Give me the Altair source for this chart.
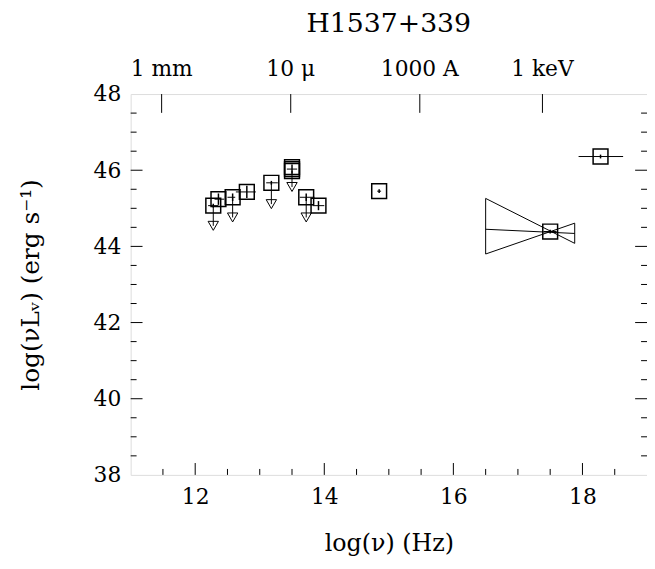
import altair as alt
import pandas as pd

FONT = "DejaVu Serif"

# ---- data ----
# boxed measurements (log nu, log nuLnu)
sq_x = [12.28, 12.36, 12.58, 12.80, 13.18, 13.50, 13.50, 13.50, 13.72, 13.91, 14.85, 17.50, 18.28]
sq_y = [45.07, 45.24, 45.29, 45.43, 45.67, 45.98, 46.03, 46.08, 45.29, 45.07, 45.45, 44.39, 46.36]

# small error bars inside the boxes
err_x = [12.28, 12.36, 12.58, 12.80, 13.18, 13.50, 13.72, 13.91, 14.85, 17.50, 18.28]
err_y = [45.07, 45.24, 45.29, 45.43, 45.67, 46.03, 45.29, 45.07, 45.45, 44.39, 46.36]
err_xlo = [12.20, 12.30, 12.50, 12.63, 13.10, 13.42, 13.62, 13.82, 14.82, 17.40, 17.94]
err_xhi = [12.36, 12.45, 12.62, 12.94, 13.28, 13.58, 13.85, 14.00, 14.88, 17.60, 18.63]
err_ylo = [45.02, 45.09, 45.19, 45.27, 45.62, 45.91, 45.19, 44.95, 45.40, 44.34, 46.31]
err_yhi = [45.12, 45.39, 45.39, 45.59, 45.72, 46.15, 45.39, 45.19, 45.50, 44.44, 46.41]

# upper limits (arrows)
lim_x = [12.28, 12.58, 13.18, 13.50, 13.72]
lim_y = [45.07, 45.29, 45.67, 45.98, 45.29]
lim_end = [44.54, 44.76, 45.11, 45.56, 44.76]

# X-ray bow tie
bow_x = [16.50, 17.88, 17.88, 16.50, 16.50]
bow_y = [45.26, 44.08, 44.61, 43.80, 45.26]
bow_mid_x = [16.50, 17.88]
bow_mid_y = [44.45, 44.34]

# axes
x_labels = [12, 14, 16, 18]
y_labels = [38, 40, 42, 44, 46, 48]
x_ticks = [11.5, 12, 12.5, 13, 13.5, 14, 14.5, 15, 15.5, 16, 16.5, 17, 17.5, 18, 18.5]
y_ticks = [38.5, 39, 39.5, 40, 40.5, 41, 41.5, 42, 42.5, 43, 43.5, 44, 44.5, 45, 45.5,
           46, 46.5, 47, 47.5]
top_pos = [11.48, 13.48, 15.48, 17.38]
top_text = ["1 mm", "10 \u03bc", "1000 A", "1 keV"]

X_MIN, X_MAX = 11, 19
Y_MIN, Y_MAX = 38, 48

W, H = 522, 385
xs = alt.Scale(domain=[X_MIN, X_MAX], nice=False, zero=False)
ys = alt.Scale(domain=[Y_MIN, Y_MAX], nice=False, zero=False)

# tick lengths expressed in data units
px_x = (X_MAX - X_MIN) / W
px_y = (Y_MAX - Y_MIN) / H
MAJ, MIN_, TOP = 12, 6, 19

rows = []
for v in x_ticks:
    L = (MAJ if v % 2 == 0 else MIN_) * px_y
    rows.append(dict(x=v, x2=v, y=Y_MIN, y2=Y_MIN + L))
for v in y_ticks:
    L = (MAJ if v % 2 == 0 else MIN_) * px_x
    rows.append(dict(x=X_MIN, x2=X_MIN + L, y=v, y2=v))
    rows.append(dict(x=X_MAX, x2=X_MAX - L, y=v, y2=v))
for v in top_pos:
    rows.append(dict(x=v, x2=v, y=Y_MAX, y2=Y_MAX - TOP * px_y))
ticks_df = pd.DataFrame(rows)

sq_df = pd.DataFrame({"x": sq_x, "y": sq_y})
err_df = pd.DataFrame({"x": err_x, "y": err_y, "xlo": err_xlo, "xhi": err_xhi,
                       "ylo": err_ylo, "yhi": err_yhi})
lim_df = pd.DataFrame({"x": lim_x, "y": lim_y, "end": lim_end})
bow_df = pd.DataFrame(
    {"x": bow_x + bow_mid_x, "y": bow_y + bow_mid_y,
     "line": ["outline"] * len(bow_x) + ["mid"] * len(bow_mid_x),
     "order": list(range(len(bow_x))) + list(range(len(bow_mid_x)))})
top_df = pd.DataFrame({"x": top_pos, "label": top_text, "y": [Y_MAX] * len(top_pos)})

x_axis = alt.Axis(values=x_labels, format="d", ticks=False, domain=False, grid=False,
                  labelFont=FONT, labelFontSize=22, labelPadding=12, labelColor="black",
                  title="log(\u03bd)  (Hz)", titleFont=FONT, titleFontSize=24,
                  titleFontWeight="normal", titleColor="black", titlePadding=24)
y_axis = alt.Axis(values=y_labels, format="d", ticks=False, domain=False, grid=False,
                  labelFont=FONT, labelFontSize=22, labelPadding=10, labelColor="black",
                  title="log(\u03bdL\u1d65)  (erg s\u207b\u00b9)", titleFont=FONT,
                  titleFontSize=25, titleFontWeight="normal", titleColor="black",
                  titlePadding=50)


def X(f):
    return alt.X(f, scale=xs, axis=x_axis)


def Y(f):
    return alt.Y(f, scale=ys, axis=y_axis)


squares = alt.Chart(sq_df).mark_square(filled=False, size=225, color="black",
                                       strokeWidth=1.5, opacity=1).encode(
    x=X("x:Q"), y=Y("y:Q"))

ebx = alt.Chart(err_df).mark_rule(color="black", strokeWidth=1).encode(
    x=X("xlo:Q"), x2="xhi:Q", y=Y("y:Q"))
eby = alt.Chart(err_df).mark_rule(color="black", strokeWidth=1.5).encode(
    x=X("x:Q"), y=Y("ylo:Q"), y2="yhi:Q")

arrows = alt.Chart(lim_df).mark_rule(color="black", strokeWidth=1).encode(
    x=X("x:Q"), y=Y("y:Q"), y2="end:Q")
heads = alt.Chart(lim_df).mark_point(shape="triangle-down", filled=False, size=110,
                                     color="black", strokeWidth=1, opacity=1).encode(
    x=X("x:Q"), y=Y("end:Q"))

bow = alt.Chart(bow_df).mark_line(color="black", strokeWidth=1).encode(
    x=X("x:Q"), y=Y("y:Q"), detail="line:N", order="order:Q")

tickmarks = alt.Chart(ticks_df).mark_rule(color="black", strokeWidth=1).encode(
    x=X("x:Q"), x2="x2:Q", y=Y("y:Q"), y2="y2:Q")

toplabels = alt.Chart(top_df).mark_text(font=FONT, fontSize=22, color="black",
                                        baseline="middle", align="center",
                                        dy=-25).encode(
    x=X("x:Q"), y=Y("y:Q"), text="label:N")

chart = alt.layer(squares, ebx, eby, arrows, heads, bow, tickmarks, toplabels).properties(
    width=W, height=H,
    title=alt.TitleParams("H1537+339", font=FONT, fontSize=27, fontWeight="normal",
                          color="black", anchor="middle", offset=21),
    autosize=alt.AutoSizeParams(type="none"),
    padding={"left": 124, "top": 84, "right": 0, "bottom": 80},
).configure_view(stroke="black", strokeWidth=1).configure(background="white")

chart.save("out.html", embed_options={"renderer": "svg", "actions": False})
